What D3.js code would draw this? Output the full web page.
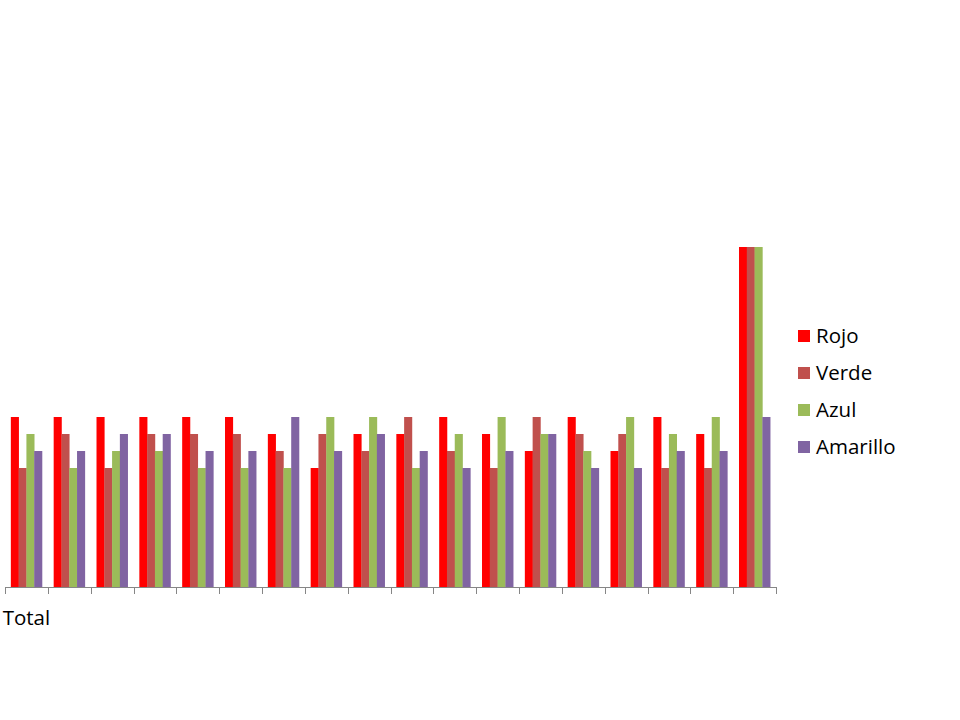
<!DOCTYPE html>
<html>
<head>
<meta charset="utf-8">
<script src="https://cdn.jsdelivr.net/npm/d3@7"></script>
<style>
  html, body { margin: 0; padding: 0; background: #fff; }
  svg { display: block; }
</style>
</head>
<body>
<svg id="chart" width="960" height="720"></svg>
<script>
// ---- data ----
const categories = ["Total", "", "", "", "", "", "", "", "", "", "", "", "", "", "", "", "", ""];
const seriesNames = ["Rojo", "Verde", "Azul", "Amarillo"];
const rojo     = [10, 10, 10, 10, 10, 10,  9,  7,  9,  9, 10,  9,  8, 10,  8, 10,  9, 20];
const verde    = [ 7,  9,  7,  9,  9,  9,  8,  9,  8, 10,  8,  7, 10,  9,  9,  7,  7, 20];
const azul     = [ 9,  7,  8,  8,  7,  7,  7, 10, 10,  7,  9, 10,  9,  8, 10,  9, 10, 20];
const amarillo = [ 8,  8,  9,  9,  8,  8, 10,  8,  9,  8,  7,  8,  9,  7,  7,  8,  8, 10];
const seriesColors = ["#FF0000", "#C0504D", "#9BBB59", "#8064A2"];

const seriesValues = [rojo, verde, azul, amarillo];
const svg = d3.select("#chart");

const plot = { left: 5, right: 776, base: 587, top: 247 };

const x0 = d3.scaleBand()
  .domain(d3.range(categories.length))
  .range([plot.left, plot.right])
  .paddingInner(0).paddingOuter(0);

const gapFrac = 1.5 / 5.5 / 2; // Excel gap width 150%
const x1 = d3.scaleBand()
  .domain(seriesNames)
  .range([x0.bandwidth() * gapFrac, x0.bandwidth() * (1 - gapFrac)])
  .padding(0);

const y = d3.scaleLinear().domain([0, 20]).range([plot.base, plot.top]);

// bars
const groups = svg.append("g").selectAll("g")
  .data(categories.map((c, i) => i))
  .join("g")
  .attr("transform", i => `translate(${x0(i)},0)`);

groups.selectAll("rect")
  .data(i => seriesNames.map((s, k) => ({ s, k, v: seriesValues[k][i] })))
  .join("rect")
  .attr("x", d => x1(d.s))
  .attr("width", x1.bandwidth() + 0.3)
  .attr("y", d => y(d.v))
  .attr("height", d => y(0) - y(d.v))
  .attr("fill", d => seriesColors[d.k]);

// x axis
const axisG = svg.append("g");
axisG.append("line")
  .attr("x1", plot.left).attr("x2", plot.right)
  .attr("y1", plot.base + 0.5).attr("y2", plot.base + 0.5)
  .attr("stroke", "#868686").attr("stroke-width", 1);
const tickPos = d3.range(categories.length + 1).map(i => i < categories.length ? x0(i) : plot.right);
axisG.selectAll("line.tick")
  .data(tickPos)
  .join("line")
  .attr("class", "tick")
  .attr("x1", d => Math.round(d) + 0.5).attr("x2", d => Math.round(d) + 0.5)
  .attr("y1", plot.base).attr("y2", plot.base + 7)
  .attr("stroke", "#868686").attr("stroke-width", 1);
axisG.selectAll("text")
  .data(categories.map((c, i) => ({ c, i })).filter(d => d.c !== ""))
  .join("text")
  .attr("x", d => x0(d.i) + x0.bandwidth() / 2)
  .attr("y", 625)
  .attr("text-anchor", "middle")
  .attr("font-family", "'Open Sans', sans-serif")
  .attr("font-size", 20.5)
  .attr("fill", "#000")
  .text(d => d.c);

// legend
const legend = svg.append("g").attr("transform", "translate(798,0)");
const legY = d3.scalePoint().domain(seriesNames).range([343, 454]);
const items = legend.selectAll("g").data(seriesNames).join("g")
  .attr("transform", d => `translate(0,${legY(d)})`);
items.append("rect")
  .attr("x", 0).attr("y", -13)
  .attr("width", 12).attr("height", 12)
  .attr("fill", (d, i) => seriesColors[i]);
items.append("text")
  .attr("x", 18).attr("y", 0)
  .attr("font-family", "'Open Sans', sans-serif")
  .attr("font-size", 20.5)
  .attr("fill", "#000")
  .text(d => d);
</script>
</body>
</html>
